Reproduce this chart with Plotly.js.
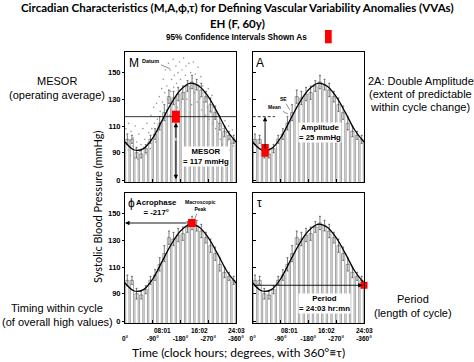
<!DOCTYPE html>
<html><head><meta charset="utf-8">
<script src="https://cdn.plot.ly/plotly-3.0.1.min.js"></script>
<style>html,body{margin:0;padding:0;background:#fff}#chart{width:474px;height:362px}</style>
</head><body><div id="chart"></div>
<script>
// ---- data ----
const hourDeg = [7.5,22.5,37.5,52.5,67.5,82.5,97.5,112.5,127.5,142.5,157.5,172.5,187.5,202.5,217.5,232.5,247.5,262.5,277.5,292.5,307.5,322.5,337.5,352.5];
const hourMean = [100,100,90,89,93,100,104,112,120,132,131,134,135,140,143,141,137,132,126,120,112,106,103,100];
const hourSE = [4,3,4,3,3,3,4,5,6,5,5,5,5,4,5,4,5,4,5,5,5,4,3,3];
const fitDeg = [0,30,60,90,120,150,180,210,240,270,300,330,360];
const fitVal = [98,92,93,101,114,127,137,142,140,132,120,107,98];
const dotDeg = [3,5,8,10,12,15,18,20,24,27,30,33,36,38,42,45,48,52,55,58,61,64,68,71,74,77,82,84,87,90,93,96,99,102,105,108,111,114,117,119,122,124,126,129,131,134,136,139,141,144,146,148,151,153,156,158,160,163,165,167,170,172,175,177,180,183,185,188,190,193,196,198,201,204,207,210,213,216,219,222,225,228,231,234,237,240,243,246,249,252,255,258,261,264,267,270,273,276,279,282,285,288,291,294,297,300,303,306,309,312,315,318,321,324,327,330,333,336,339,342,345,348,351,354,357];
const dotVal = [108,97,104,92,112,99,88,106,95,101,86,110,93,98,85,104,91,96,87,108,94,100,89,112,97,105,93,118,108,101,124,112,98,127,115,106,132,121,110,138,128,145,116,135,152,122,140,130,157,118,152,136,145,127,160,139,148,131,155,142,124,150,137,158,145,128,152,140,161,135,148,155,130,143,157,138,150,126,146,158,135,149,142,128,154,139,131,147,122,140,128,135,118,131,124,138,115,127,120,133,112,124,117,108,121,113,104,118,100,110,96,108,102,114,94,105,99,110,92,103,97,107,95,101,98];
const mesor = 117, mesorCI = [112.5, 121.5];
const amplitude = 25, ampCI = [87, 96.5];
const acrophase = 217, acroCI = [204.5, 229.5], acroCIval = [140, 146];
const periodLevel = 96.3;
const yTickVals = [69, 90, 110, 130, 150];
const yTickText = ['0', '90', '110', '130', '150'];
const degTickVals = [0, 90, 180, 270, 360];
const degTickText = ['0°', '-90°', '-180°', '-270°', '-360°'];
const clockVals = [120, 240, 360];
const clockText = ['08:01', '16:02', '24:03'];

// ---- layout geometry ----
const W = 474, H = 362;
const px = v => v / W, py = v => 1 - v / H;
const LX = [px(125), px(236)], RX = [px(252.7), px(364)];
const TY = [py(182), py(52)], BY = [py(323), py(193)];
const YR = [68, 165.5];
const SANS = 'Liberation Sans, Arial, sans-serif';
const CAL = 'Lato, Open Sans, sans-serif';

const traces = [];
const axes = [['x','y'],['x2','y2'],['x3','y3'],['x4','y4']];
axes.forEach(([xa, ya]) => {
  traces.push({type:'bar', x:hourDeg, y:hourMean, xaxis:xa, yaxis:ya,
    marker:{color:'#fff', line:{color:'#333', width:0.45}},
    error_y:{type:'data', array:hourSE, color:'#222', thickness:0.6, width:1},
    hoverinfo:'skip'});
});
// raw data points in M panel
traces.push({type:'scatter', mode:'markers', x:dotDeg, y:dotVal, xaxis:'x', yaxis:'y',
  marker:{size:1.6, color:'#999'}, hoverinfo:'skip'});
// MESOR line
traces.push({type:'scatter', mode:'lines', x:[0,360], y:[mesor,mesor], xaxis:'x', yaxis:'y',
  line:{color:'#000', width:0.8}, hoverinfo:'skip'});
// fitted curves
axes.forEach(([xa, ya]) => {
  traces.push({type:'scatter', mode:'lines', x:fitDeg, y:fitVal, xaxis:xa, yaxis:ya,
    line:{color:'#000', width:1.3, shape:'spline'}, hoverinfo:'skip'});
});
// amplitude dashed reference at MESOR
traces.push({type:'scatter', mode:'lines', x:[0,72], y:[mesor,mesor], xaxis:'x2', yaxis:'y2',
  line:{color:'#000', width:0.8, dash:'3px,2px'}, hoverinfo:'skip'});
// period CI marker (extends beyond frame)
traces.push({type:'scatter', mode:'markers', x:[360], y:[periodLevel], xaxis:'x4', yaxis:'y4',
  cliponaxis:false, marker:{symbol:'square', size:7, color:'#f00'}, hoverinfo:'skip'});

function xax(dom, anchor, labels) {
  const a = {domain:dom, anchor:anchor, range:[0,360], showline:true, mirror:true, linecolor:'#000', linewidth:1,
    showgrid:false, zeroline:false, ticks:'inside', ticklen:3, tickcolor:'#000', fixedrange:true};
  if (labels) {
    a.tickvals = degTickVals; a.ticktext = degTickText; a.ticklabelstandoff = 9;
    a.tickfont = {family:SANS, size:6.5, weight:'bold', color:'#000'};
  } else { a.tickvals = [90,180,270]; a.showticklabels = false; }
  return a;
}
function yax(dom, anchor, labels) {
  const a = {domain:dom, anchor:anchor, range:YR, showline:true, mirror:true, linecolor:'#000', linewidth:1,
    showgrid:false, zeroline:false, tickvals:yTickVals, ticktext:yTickText, tickcolor:'#000', fixedrange:true};
  if (labels) { a.ticks = 'outside'; a.ticklen = 2; a.tickfont = {family:SANS, size:7.5, weight:'bold', color:'#000'}; }
  else { a.ticks = 'inside'; a.ticklen = 3; a.showticklabels = false; }
  return a;
}

const anns = [];
function pa(text, x, y, size, o) {
  anns.push(Object.assign({xref:'paper', yref:'paper', x:px(x), y:py(y), text:text, showarrow:false,
    xanchor:'center', yanchor:'middle', font:{family:SANS, size:size, color:'#000'}}, o || {}));
}
// titles
pa('Circadian Characteristics (M,A,ϕ,τ) for Defining Vascular Variability Anomalies (VVAs)', 237, 8, 11.5, {font:{family:CAL, size:11.5, weight:'bold', color:'#000'}});
pa('EH (F, 60y)', 237, 23, 11.5, {font:{family:CAL, size:11.5, weight:'bold', color:'#000'}});
pa('95% Confidence Intervals Shown As', 236, 37, 8.2, {font:{family:SANS, size:8.2, weight:'bold', color:'#000'}});
// side labels
pa('MESOR', 57, 81, 11);
pa('(operating average)', 57, 95, 11);
pa('Timing within cycle', 57, 308, 11);
pa('(of overall high values)', 57, 322, 11);
pa('2A: Double Amplitude', 421, 81, 11);
pa('(extent of predictable', 420, 94, 11);
pa('within cycle change)', 420, 107, 11);
pa('Period', 413, 299, 11);
pa('(length of cycle)', 413, 313, 11);
pa('Systolic Blood Pressure (mmHg)', 97, 207, 11, {textangle:-90, font:{family:CAL, size:11, color:'#000'}});
pa('Time (clock hours; degrees, with 360°≡τ)', 239, 352, 12, {font:{family:CAL, size:12, color:'#000'}});
// panel letters
pa('M', 134, 63, 12);
pa('A', 260, 63, 12);
pa('ϕ', 131, 203, 12);
pa('τ', 259, 203, 12);
// clock labels
['x3','x4'].forEach(xa => clockVals.forEach((v, i) => {
  anns.push({xref:xa, yref:'paper', x:v, y:py(330), text:clockText[i], showarrow:false,
    xanchor:'center', yanchor:'middle', font:{family:SANS, size:6.5, weight:'bold', color:'#000'}});
}));
function da(xa, ya, text, x, y, size, o) {
  anns.push(Object.assign({xref:xa, yref:ya, x:x, y:y, text:text, showarrow:false,
    xanchor:'center', yanchor:'middle', font:{family:SANS, size:size, weight:'bold', color:'#000'}}, o || {}));
}
const bw = {bgcolor:'#fff', borderpad:0};
da('x','y','MESOR<br>= 117 mmHg', 262, 87, 7.8, bw);
da('x2','y2','Amplitude<br>= 25 mmHg', 218, 105, 7.8, bw);
da('x3','y3','Acrophase<br>= -217°', 102, 155, 7.8, bw);
da('x4','y4','Period<br>= 24:03 hr:mn', 232, 83, 7.8, bw);
// leader labels
da('x','y','Datum', 146, 153, 5.5, {showarrow:true, arrowhead:0, arrowwidth:0.6, axref:'x', ayref:'y', ax:84, ay:159});
da('x2','y2','SE', 120, 122, 5, {showarrow:true, arrowhead:0, arrowwidth:0.6, axref:'x2', ayref:'y2', ax:100, ay:130});
da('x2','y2','Mean', 114, 119, 5, {showarrow:true, arrowhead:0, arrowwidth:0.6, axref:'x2', ayref:'y2', ax:72, ay:124});
da('x3','y3','Macroscopic<br>Peak', 226, 146, 5, {showarrow:true, arrowhead:0, arrowwidth:0.6, axref:'x3', ayref:'y3', ax:244, ay:156});
// arrows
function arrow(xa, ya, x, y, ax, ay, head) {
  anns.push({xref:xa, yref:ya, axref:xa, ayref:ya, x:x, y:y, ax:ax, ay:ay, text:'', showarrow:true,
    arrowhead:head, arrowsize:1, arrowwidth:0.9, arrowcolor:'#000', standoff:0, startstandoff:0});
}
arrow('x','y', 165, 70, 165, 100, 2);
arrow('x','y', 165, mesorCI[0], 165, 100, 2);
arrow('x2','y2', 40, mesor, 40, mesor - amplitude, 2);
arrow('x3','y3', 0, 143, acroCI[0], 143, 2);
arrow('x4','y4', 356, periodLevel, 0, periodLevel, 2);

const shapes = [
  {type:'rect', xref:'paper', yref:'paper', x0:px(325), x1:px(331.7), y0:py(43.3), y1:py(30), fillcolor:'#f00', line:{width:0}},
  {type:'rect', xref:'x', yref:'y', x0:152, x1:178, y0:mesorCI[0], y1:mesorCI[1], fillcolor:'#f00', line:{width:0}},
  {type:'rect', xref:'x2', yref:'y2', x0:28.5, x1:52, y0:ampCI[0], y1:ampCI[1], fillcolor:'#f00', line:{width:0}},
  {type:'rect', xref:'x3', yref:'y3', x0:acroCI[0], x1:acroCI[1], y0:acroCIval[0], y1:acroCIval[1], fillcolor:'#f00', line:{width:0}}
];

const layout = {
  width:W, height:H, margin:{l:0, r:0, t:0, b:0}, paper_bgcolor:'#fff', plot_bgcolor:'#fff',
  showlegend:false, bargap:0.3,
  xaxis:xax(LX,'y',false), yaxis:yax(TY,'x',true),
  xaxis2:xax(RX,'y2',false), yaxis2:yax(TY,'x2',false),
  xaxis3:xax(LX,'y3',true), yaxis3:yax(BY,'x3',true),
  xaxis4:xax(RX,'y4',true), yaxis4:yax(BY,'x4',false),
  annotations:anns, shapes:shapes
};
Plotly.newPlot('chart', traces, layout, {staticPlot:true, displayModeBar:false});
</script></body></html>
